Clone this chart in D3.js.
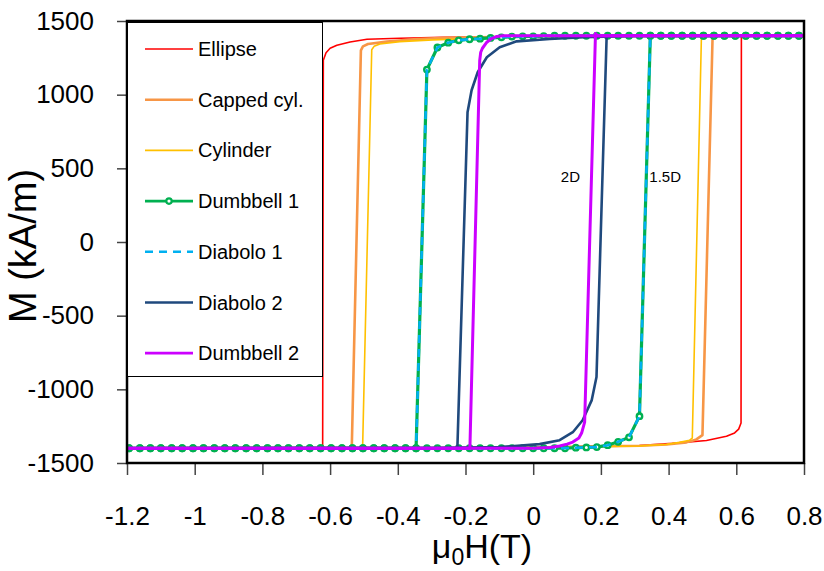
<!DOCTYPE html>
<html>
<head>
<meta charset="utf-8">
<script src="https://cdn.jsdelivr.net/npm/d3@7"></script>
<style>
  body { margin: 0; background: #fff; }
  svg { display: block; font-family: "Liberation Sans", Arial, sans-serif; }
</style>
</head>
<body>
<svg id="chart" width="824" height="571"></svg>
<script>

// field axis ticks (T) and magnetisation ticks (kA/m)
const xTicks = [-1.2, -1, -0.8, -0.6, -0.4, -0.2, 0, 0.2, 0.4, 0.6, 0.8];
const yTicks = [-1500, -1000, -500, 0, 500, 1000, 1500];

// each branch is a list of [mu0H (T), M (kA/m)]
const ellipseDown = [[0.8, 1400], [0.3, 1398], [0, 1395], [-0.267, 1389], [-0.394, 1383], [-0.491, 1376],
  [-0.541, 1358], [-0.58, 1336], [-0.6, 1315], [-0.612, 1285], [-0.62, 1233], [-0.622, -1400], [-1.2, -1400]];
const ellipseUp = [[-1.2, -1400], [-0.3, -1398], [0, -1394], [0.314, -1381], [0.411, -1367], [0.512, -1347],
  [0.571, -1319], [0.595, -1296], [0.607, -1270], [0.614, -1229], [0.615, 1400], [0.8, 1400]];

const cappedDown = [[0.8, 1400], [0.3, 1398], [0, 1395], [-0.255, 1386], [-0.344, 1378], [-0.432, 1360],
  [-0.488, 1344], [-0.503, 1328], [-0.509, 1301], [-0.536, -1400], [-1.2, -1400]];
const cappedUp = [[-1.2, -1400], [-0.3, -1398], [0, -1395], [0.314, -1383], [0.394, -1374], [0.453, -1360],
  [0.482, -1340], [0.5, -1311], [0.53, 1400], [0.8, 1400]];

const cylinderDown = [[0.8, 1400], [0.3, 1398], [0, 1395], [-0.296, 1372], [-0.394, 1360], [-0.453, 1344],
  [-0.47, 1328], [-0.477, 1305], [-0.504, -1400], [-1.2, -1400]];
const cylinderUp = [[-1.2, -1400], [-0.3, -1398], [0, -1395], [0.314, -1385], [0.394, -1374], [0.432, -1360],
  [0.462, -1345], [0.47, -1331], [0.497, 1400], [0.8, 1400]];

// Dumbbell 1 was sampled every 25 kA/m, so it gets its own field grid
const dumbbell1Field = [-1.225, -1.194, -1.162, -1.131, -1.100, -1.068, -1.037, -1.005, -0.974, -0.942,
  -0.911, -0.880, -0.848, -0.817, -0.785, -0.754, -0.723, -0.691, -0.660, -0.628,
  -0.597, -0.565, -0.534, -0.503, -0.471, -0.440, -0.408, -0.377, -0.346, -0.314,
  -0.283, -0.251, -0.220, -0.188, -0.157, -0.126, -0.094, -0.063, -0.031, 0,
  0.031, 0.063, 0.094, 0.126, 0.157, 0.188, 0.220, 0.251, 0.283, 0.314,
  0.346, 0.377, 0.408, 0.440, 0.471, 0.503, 0.534, 0.565, 0.597, 0.628,
  0.660, 0.691, 0.723, 0.754, 0.785, 0.817];
const dumbbell1Down = [-1400, -1400, -1400, -1400, -1400, -1400, -1400, -1400, -1400, -1400,
  -1400, -1400, -1400, -1400, -1400, -1400, -1400, -1400, -1400, -1400,
  -1400, -1400, -1400, -1400, -1400, -1400, -1400, -1400, -1400, 1170,
  1320, 1353, 1369, 1376, 1380, 1385, 1389, 1394, 1396, 1396,
  1398, 1400, 1400, 1400, 1400, 1400, 1400, 1400, 1400, 1400,
  1400, 1400, 1400, 1400, 1400, 1400, 1400, 1400, 1400, 1400,
  1400, 1400, 1400, 1400, 1400, 1400];
const dumbbell1Up = [-1400, -1400, -1400, -1400, -1400, -1400, -1400, -1400, -1400, -1400,
  -1400, -1400, -1400, -1400, -1400, -1400, -1400, -1400, -1400, -1400,
  -1400, -1400, -1400, -1400, -1400, -1400, -1400, -1400, -1400, -1400,
  -1400, -1400, -1400, -1400, -1400, -1400, -1400, -1400, -1400, -1400,
  -1400, -1400, -1400, -1396, -1394, -1392, -1379, -1356, -1326, -1182,
  1400, 1400, 1400, 1400, 1400, 1400, 1400, 1400, 1400, 1400,
  1400, 1400, 1400, 1400, 1400, 1400];

const diabolo1Down = [[0.8, 1400], [0.063, 1400], [0.031, 1398], [-0.031, 1396], [-0.063, 1394], [-0.094, 1389],
  [-0.126, 1385], [-0.157, 1380], [-0.188, 1376], [-0.22, 1369], [-0.251, 1353], [-0.283, 1320],
  [-0.314, 1170], [-0.346, -1400], [-1.2, -1400]];
const diabolo1Up = [[-1.2, -1400], [0.094, -1400], [0.126, -1396], [0.157, -1394], [0.188, -1392], [0.22, -1379],
  [0.251, -1356], [0.283, -1326], [0.314, -1182], [0.346, 1400], [0.8, 1400]];

const diabolo2Down = [[0.8, 1400], [0.3, 1398], [0.15, 1390], [0.049, 1378], [-0.049, 1362], [-0.099, 1322],
  [-0.137, 1254], [-0.164, 1152], [-0.182, 1030], [-0.194, 880], [-0.224, -1400], [-1.2, -1400]];
const diabolo2Up = [[-1.2, -1400], [-0.3, -1398], [-0.1, -1392], [0.019, -1372], [0.078, -1345], [0.117, -1291],
  [0.146, -1210], [0.173, -1073], [0.187, -917], [0.217, 1400], [0.8, 1400]];

const dumbbell2Down = [[0.8, 1400], [-0.09, 1400], [-0.107, 1395], [-0.125, 1378], [-0.137, 1356], [-0.15, 1315],
  [-0.155, 1288], [-0.158, 1233], [-0.187, -1400], [-1.2, -1400]];
const dumbbell2Up = [[-1.2, -1400], [0, -1400], [0.05, -1395], [0.078, -1385], [0.1, -1372], [0.117, -1358],
  [0.135, -1330], [0.143, -1297], [0.152, -1223], [0.184, 1415], [0.19, 1400], [0.8, 1400]];

const seriesNames = ["Ellipse", "Capped cyl.", "Cylinder", "Dumbbell 1", "Diabolo 1", "Diabolo 2", "Dumbbell 2"];

const notes = [{text: "2D", h: 0.11, m: 445}, {text: "1.5D", h: 0.39, m: 445}];

// ---------------------------------------------------------------

const svg = d3.select("#chart");

const x = d3.scaleLinear().domain([-1.2, 0.8]).range([127, 804]);
const y = d3.scaleLinear().domain([-1500, 1500]).range([463, 21]);

const dumbbell1DownPts = dumbbell1Field.map((h, i) => [h, dumbbell1Down[i]]);
const dumbbell1UpPts = dumbbell1Field.map((h, i) => [h, dumbbell1Up[i]]);

const series = [
	{name: seriesNames[0], color: "#ff0000", width: 1.6, branches: [ellipseDown, ellipseUp]},
	{name: seriesNames[1], color: "#f79646", width: 2.6, branches: [cappedDown, cappedUp]},
	{name: seriesNames[2], color: "#ffc000", width: 1.6, branches: [cylinderDown, cylinderUp]},
	{name: seriesNames[3], color: "#00b050", width: 3.2, marker: true, branches: [dumbbell1DownPts, dumbbell1UpPts]},
	{name: seriesNames[4], color: "#00b0f0", width: 2.6, dash: "8,6", branches: [diabolo1Down, diabolo1Up]},
	{name: seriesNames[5], color: "#1f497d", width: 2.6, branches: [diabolo2Down, diabolo2Up]},
	{name: seriesNames[6], color: "#cc00ff", width: 3, branches: [dumbbell2Down, dumbbell2Up]}
];

svg.append("defs").append("clipPath")
	.attr("id", "plot-clip")
	.append("rect")
	.attr("x", 127).attr("y", 21)
	.attr("width", 804 - 127).attr("height", 463 - 21);

const line = d3.line().x(d => x(d[0])).y(d => y(d[1]));

const gPlot = svg.append("g").attr("clip-path", "url(#plot-clip)");

series.forEach(s => {
	const g = gPlot.append("g");
	g.selectAll("path")
	 .data(s.branches)
	 .join("path")
	 .attr("d", line)
	 .attr("fill", "none")
	 .attr("stroke", s.color)
	 .attr("stroke-width", s.width)
	 .attr("stroke-dasharray", s.dash || null)
	 .attr("stroke-linejoin", "round");
	if (s.marker) {
		g.selectAll("circle")
		 .data(s.branches.flat())
		 .join("circle")
		 .attr("cx", d => x(d[0]))
		 .attr("cy", d => y(d[1]))
		 .attr("r", 2.7)
		 .attr("fill", "#fff")
		 .attr("stroke", s.color)
		 .attr("stroke-width", 2.4);
	}
});

// notes next to the switching lines
svg.selectAll("text.note")
	.data(notes)
	.join("text")
	.attr("class", "note")
	.attr("x", d => x(d.h))
	.attr("y", d => y(d.m))
	.attr("dy", "0.35em")
	.attr("text-anchor", "middle")
	.style("font-size", "15px")
	.text(d => d.text);

// axes
const yAxis = svg.append("g")
	.attr("transform", "translate(127,0)")
	.call(d3.axisLeft(y).tickValues(yTicks).tickSize(10).tickPadding(23).tickFormat(d => String(d)));

const xAxis = svg.append("g")
	.attr("transform", "translate(0,463)")
	.call(d3.axisBottom(x).tickValues(xTicks).tickSize(12).tickPadding(32).tickFormat(d => String(Math.round(d * 10) / 10)));

[xAxis, yAxis].forEach(a => {
	a.select(".domain").remove();
	a.selectAll(".tick line").attr("stroke", "#444").attr("stroke-width", 1.5);
	a.selectAll(".tick text")
	 .attr("fill", "#000")
	 .style("font-size", "26px")
	 .style("font-family", "'Liberation Sans', Arial, sans-serif");
});

// plot frame
svg.append("rect")
	.attr("x", 127).attr("y", 21)
	.attr("width", 804 - 127).attr("height", 463 - 21)
	.attr("fill", "none")
	.attr("stroke", "#000")
	.attr("stroke-width", 2.5);

// legend
const legend = svg.append("g");

legend.append("rect")
	.attr("x", 127.5).attr("y", 22.5)
	.attr("width", 195).attr("height", 354)
	.attr("fill", "#fff")
	.attr("stroke", "#000")
	.attr("stroke-width", 1);

const item = legend.selectAll("g.item")
	.data(series)
	.join("g")
	.attr("class", "item")
	.attr("transform", (d, i) => `translate(0,${49 + i * 50.7})`);

item.append("line")
	.attr("x1", 145).attr("x2", 193)
	.attr("stroke", d => d.color)
	.attr("stroke-width", d => Math.min(d.width, 2.8))
	.attr("stroke-dasharray", d => d.dash || null);

item.filter(d => d.marker)
	.append("circle")
	.attr("cx", 169)
	.attr("r", 2.7)
	.attr("fill", "#fff")
	.attr("stroke", d => d.color)
	.attr("stroke-width", 2.2);

item.append("text")
	.attr("x", 198)
	.attr("dy", "0.35em")
	.style("font-size", "20px")
	.text(d => d.name);

// axis titles
svg.append("text")
	.attr("transform", "translate(36,246) rotate(-90)")
	.attr("text-anchor", "middle")
	.style("font-size", "38px")
	.text("M (kA/m)");

const xTitle = svg.append("text")
	.attr("x", 482)
	.attr("y", 558)
	.attr("text-anchor", "middle")
	.style("font-size", "34px");
xTitle.append("tspan").text("μ");
xTitle.append("tspan").attr("dy", 7).style("font-size", "23px").text("0");
xTitle.append("tspan").attr("dy", -7).text("H(T)");

</script>
</body>
</html>
